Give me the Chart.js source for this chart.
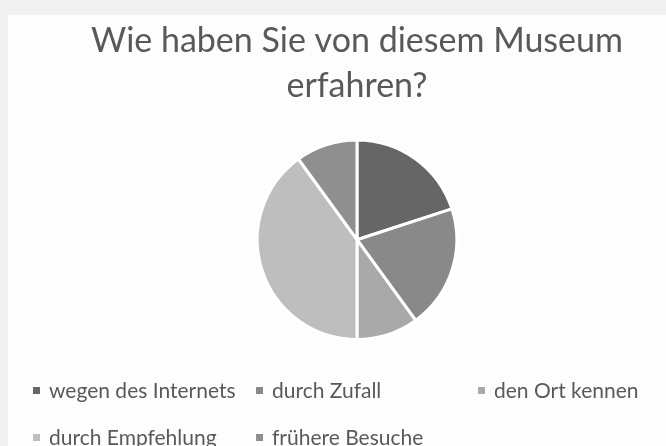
<!DOCTYPE html>
<html>
<head>
<meta charset="utf-8">
<script src="https://cdn.jsdelivr.net/npm/chart.js@4/dist/chart.umd.min.js"></script>
<style>
  html, body { margin: 0; padding: 0; background: #f1f1f1; }
  #wrap { position: relative; width: 666px; height: 446px; overflow: hidden; }
  #panel { position: absolute; left: 8px; top: 15px; right: 0; bottom: 0; background: #fdfdfd; }
  #museum-chart { position: absolute; left: 0; top: 0; }
  .legend-item { position: absolute; font-family: Lato, sans-serif; font-size: 21px; color: #595959; white-space: nowrap; line-height: 20px; }
  .legend-item span.box { display: inline-block; width: 7px; height: 7px; margin-right: 9px; vertical-align: 4px; }
</style>
</head>
<body>
<div id="wrap">
  <div id="panel"></div>
  <canvas id="museum-chart" width="666" height="446"></canvas>
  <div id="legend"></div>
</div>
<script>
const titleLines = ["Wie haben Sie von diesem Museum", "erfahren?"];
const categories = ["wegen des Internets", "durch Zufall", "den Ort kennen", "durch Empfehlung", "frühere Besuche"];
const shares = [20, 20, 10, 40, 10];
const sliceColors = ["#666666", "#898989", "#a9a9a9", "#bebebe", "#8f8f8f"];

// legend slots like the Excel layout: [left, center y]
const legendSlots = [[33, 390], [256, 390], [478, 390], [33, 437], [256, 437]];

const buildLegend = () => {
    const legend = document.getElementById("legend");
    categories.forEach((label, i) => {
        const item = document.createElement("div");
        item.className = "legend-item";
        item.style.left = legendSlots[i][0] + "px";
        item.style.top = (legendSlots[i][1] - 10) + "px";
        const box = document.createElement("span");
        box.className = "box";
        box.style.background = sliceColors[i];
        item.appendChild(box);
        item.appendChild(document.createTextNode(label));
        legend.appendChild(item);
    });
};

const loadPie = () => {
    const canvas = document.getElementById("museum-chart");
    new Chart(canvas, {
        type: "pie",
        data: {
            labels: categories,
            datasets: [{
                data: shares,
                backgroundColor: sliceColors,
                borderColor: "#ffffff",
                borderWidth: 3,
            }],
        },
        options: {
            responsive: false,
            animation: false,
            layout: { padding: { left: 48, right: 0, top: 0, bottom: 105 } },
            plugins: {
                legend: { display: false },
                tooltip: { enabled: false },
                title: {
                    display: true,
                    text: titleLines,
                    color: "#595959",
                    font: { family: "Lato", size: 34, weight: "normal", lineHeight: 1.33 },
                    padding: { top: 18, bottom: 30 },
                },
            },
        },
    });
    buildLegend();
};
window.addEventListener("load", loadPie);
</script>
</body>
</html>
